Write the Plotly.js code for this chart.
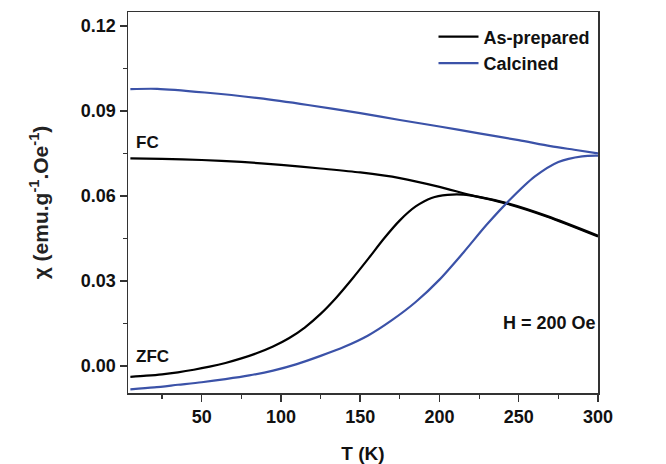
<!DOCTYPE html>
<html>
<head>
<meta charset="utf-8">
<script src="https://cdn.plot.ly/plotly-3.0.1.min.js"></script>
<style>html,body{margin:0;padding:0;background:#fff;}#chart{width:666px;height:464px;}</style>
</head>
<body>
<div id="chart"></div>
<script>
// As-prepared
const asFC_T   = [5, 25, 50, 75, 100, 125, 150, 175, 200, 219, 243, 268, 300];
const asFC_chi = [0.0733, 0.0731, 0.0727, 0.0720, 0.0710, 0.0697, 0.0683, 0.0663, 0.0632, 0.0604, 0.0572, 0.0527, 0.0457];
const asZFC_T   = [5, 15, 25, 35, 45, 55, 65, 75, 85, 95, 105, 115, 125, 135, 145, 155, 165, 175, 185, 195, 205, 215, 225, 243, 268, 300];
const asZFC_chi = [-0.0038, -0.0034, -0.0029, -0.0022, -0.0013, -0.0002, 0.0011, 0.0027, 0.0046, 0.0069, 0.0098, 0.0136, 0.0184, 0.0242, 0.0308, 0.0378, 0.0450, 0.0514, 0.0563, 0.0593, 0.0604, 0.0605, 0.0597, 0.0574, 0.0529, 0.0460];
// Calcined
const caFC_T   = [5, 22, 52, 86, 117, 150, 175, 200, 225, 250, 270, 285, 300];
const caFC_chi = [0.0977, 0.0978, 0.0965, 0.0945, 0.0921, 0.0892, 0.0868, 0.0845, 0.0821, 0.0797, 0.0776, 0.0763, 0.0750];
const caZFC_T   = [5, 20, 35, 50, 65, 80, 95, 110, 125, 140, 155, 170, 185, 200, 215, 230, 245, 260, 275, 290, 300];
const caZFC_chi = [-0.0082, -0.0075, -0.0066, -0.0057, -0.0046, -0.0033, -0.0016, 0.0007, 0.0036, 0.0068, 0.0108, 0.0162, 0.0226, 0.0305, 0.0400, 0.0500, 0.0590, 0.0668, 0.0720, 0.0740, 0.0742];

const seriesNames = ['As-prepared', 'Calcined'];
const colBlack = '#000000';
const colBlue = '#3b52a8';
const F = 'Liberation Sans, Arial, sans-serif';

const traces = [
  {x: asFC_T, y: asFC_chi, mode: 'lines', line: {color: colBlack, width: 2.2, shape: 'spline', smoothing: 0.8}, name: seriesNames[0], legendgroup: 'a', showlegend: true},
  {x: asZFC_T, y: asZFC_chi, mode: 'lines', line: {color: colBlack, width: 2.2, shape: 'spline', smoothing: 0.8}, name: seriesNames[0], legendgroup: 'a', showlegend: false},
  {x: caFC_T, y: caFC_chi, mode: 'lines', line: {color: colBlue, width: 2.2, shape: 'spline', smoothing: 0.8}, name: seriesNames[1], legendgroup: 'c', showlegend: true},
  {x: caZFC_T, y: caZFC_chi, mode: 'lines', line: {color: colBlue, width: 2.2, shape: 'spline', smoothing: 0.8}, name: seriesNames[1], legendgroup: 'c', showlegend: false}
];

const layout = {
  width: 666, height: 464,
  margin: {l: 128, r: 68, t: 12, b: 71},
  paper_bgcolor: '#ffffff', plot_bgcolor: '#ffffff',
  font: {family: F, size: 18, color: '#111'},
  showlegend: true,
  legend: {x: 0.65, y: 0.983, xanchor: 'left', yanchor: 'top', bgcolor: 'rgba(0,0,0,0)',
           font: {family: F, size: 18, color: '#111', weight: 'bold'}, tracegroupgap: 0, itemwidth: 40},
  xaxis: {
    range: [3.5, 300], tickvals: [50, 100, 150, 200, 250, 300],
    ticks: 'outside', ticklen: 7, tickwidth: 1.5, tickcolor: '#333',
    minor: {tickvals: [25, 75, 125, 175, 225, 275], ticks: 'outside', ticklen: 4, tickwidth: 1.2, tickcolor: '#333'},
    showline: true, linecolor: '#333', linewidth: 1.5, mirror: true,
    showgrid: false, zeroline: false,
    tickfont: {family: F, size: 18, color: '#111', weight: 'bold'},
    title: {text: 'T (K)', font: {family: F, size: 19, color: '#111', weight: 'bold'}, standoff: 20}
  },
  yaxis: {
    range: [-0.0095, 0.1249], tickvals: [0, 0.03, 0.06, 0.09, 0.12], tickformat: '.2f',
    ticks: 'outside', ticklen: 7, tickwidth: 1.5, tickcolor: '#333',
    minor: {tickvals: [0.015, 0.045, 0.075, 0.105], ticks: 'outside', ticklen: 4, tickwidth: 1.2, tickcolor: '#333'},
    showline: true, linecolor: '#333', linewidth: 1.5, mirror: true,
    showgrid: false, zeroline: false,
    tickfont: {family: F, size: 18, color: '#111', weight: 'bold'},
    title: {text: 'χ (emu.g<sup>-1</sup>.Oe<sup>-1</sup>)', font: {family: F, size: 21, color: '#222', weight: 'bold'}, standoff: 26}
  },
  annotations: [
    {x: 7, y: 0.0787, xref: 'x', yref: 'y', text: 'FC', showarrow: false, xanchor: 'left', yanchor: 'middle', font: {family: F, size: 17, color: '#111', weight: 'bold'}},
    {x: 7, y: 0.0035, xref: 'x', yref: 'y', text: 'ZFC', showarrow: false, xanchor: 'left', yanchor: 'middle', font: {family: F, size: 17, color: '#111', weight: 'bold'}},
    {x: 239, y: 0.0152, xref: 'x', yref: 'y', text: 'H = 200 Oe', showarrow: false, xanchor: 'left', yanchor: 'middle', font: {family: F, size: 18, color: '#111', weight: 'bold'}}
  ]
};

Plotly.newPlot('chart', traces, layout, {displayModeBar: false, staticPlot: true});
</script>
</body>
</html>
